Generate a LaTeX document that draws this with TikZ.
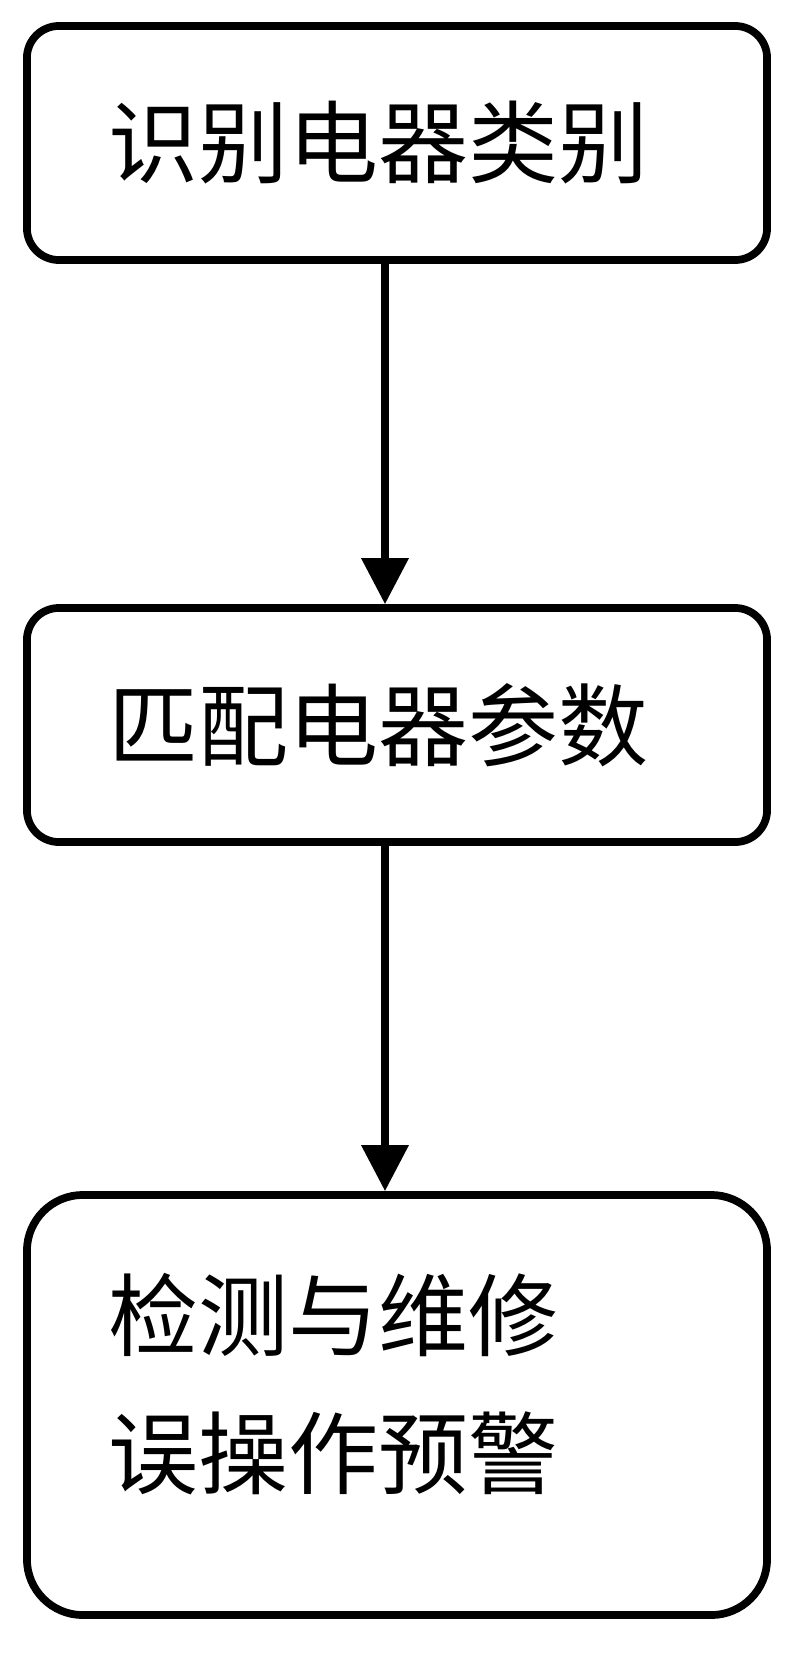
\documentclass[tikz,border=0pt]{standalone}
\usepackage{fontspec}
\newfontfamily\cjk{Noto Sans CJK SC}
\usetikzlibrary{arrows.meta,positioning}
\begin{document}
\begin{tikzpicture}[x=0.025cm,y=-0.025cm,font=\cjk\fontsize{64}{98}\selectfont,line join=round,line cap=round,>={Triangle[width=1.15cm,length=1.15cm]},
  stepbox/.style={draw,line width=5.5pt,rounded corners=0.8cm,minimum width=18.5cm,text width=14.4cm,inner xsep=2.05cm,align=left}]
\useasboundingbox (0,0) rectangle (800,1656);
\node[stepbox,minimum height=5.85cm] (shibie) at (397,143) {识别电器类别};
\node[stepbox,minimum height=5.85cm] (pipei) at (397,725) {匹配电器参数};
\node[stepbox,minimum height=10.5cm,rounded corners=1.4cm] (jiance) at (397,1405) {检测与维修\\误操作预警\\[-2.2cm]\mbox{}};
\draw[->,line width=5pt] ([xshift=-0.3cm]shibie.south)--([xshift=-0.3cm]pipei.north);
\draw[->,line width=5pt] ([xshift=-0.3cm]pipei.south)--([xshift=-0.3cm]jiance.north);
\end{tikzpicture}
\end{document}
